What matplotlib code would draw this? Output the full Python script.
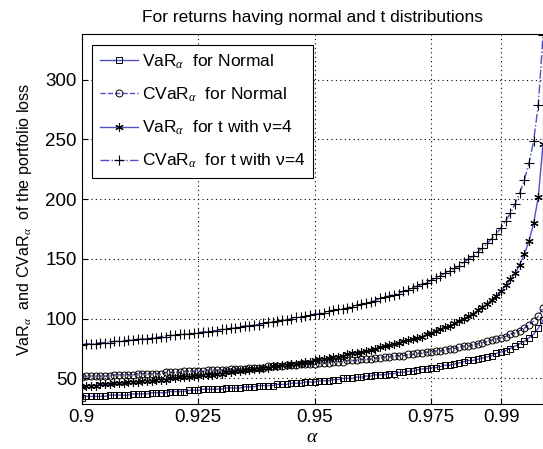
import matplotlib
matplotlib.use('Agg')
import matplotlib.pyplot as plt

# alpha = 0.900, 0.901, ..., 0.999
alpha = [round(0.9 + 0.001 * i, 3) for i in range(100)]

var_normal = [34, 35, 35, 35, 35, 35, 36, 36, 36, 36,
              36, 37, 37, 37, 37, 38, 38, 38, 38, 39,
              39, 39, 39, 40, 40, 40, 41, 41, 41, 41,
              41, 42, 42, 42, 42, 43, 43, 43, 44, 44,
              44, 44, 45, 45, 45, 46, 46, 46, 47, 47,
              47, 48, 48, 48, 49, 49, 50, 50, 50, 51,
              51, 52, 52, 53, 53, 53, 54, 54, 55, 55,
              56, 56, 57, 58, 58, 59, 59, 60, 61, 61,
              62, 63, 64, 65, 65, 66, 67, 68, 69, 71,
              72, 73, 75, 77, 79, 81, 84, 87, 92, 99]
cvar_normal = [51, 52, 52, 52, 52, 52, 52, 53, 53, 53,
               53, 53, 54, 54, 54, 54, 54, 54, 55, 55,
               55, 55, 56, 56, 56, 56, 56, 57, 57, 57,
               57, 57, 58, 58, 58, 58, 59, 59, 59, 59,
               60, 60, 60, 60, 61, 61, 61, 62, 62, 62,
               62, 63, 63, 63, 64, 64, 64, 65, 65, 65,
               66, 66, 66, 67, 67, 68, 68, 69, 69, 69,
               70, 70, 71, 71, 72, 72, 73, 73, 74, 75,
               75, 76, 77, 77, 78, 79, 80, 81, 82, 83,
               84, 85, 87, 88, 90, 92, 95, 98, 102, 109]
var_t = [43, 44, 44, 44, 45, 45, 45, 46, 46, 46,
         47, 47, 47, 48, 48, 48, 49, 49, 49, 50,
         50, 51, 51, 51, 52, 52, 53, 53, 53, 54,
         54, 55, 55, 56, 56, 57, 57, 58, 58, 59,
         59, 60, 60, 61, 61, 62, 62, 63, 64, 64,
         65, 66, 66, 67, 68, 68, 69, 70, 71, 71,
         72, 73, 74, 75, 76, 77, 78, 79, 80, 81,
         82, 83, 84, 85, 87, 88, 90, 91, 93, 94,
         96, 98, 100, 102, 104, 107, 110, 112, 116, 119,
         123, 128, 133, 138, 145, 154, 165, 180, 202, 246]
cvar_t = [78, 79, 79, 79, 80, 80, 80, 81, 81, 81,
          82, 82, 83, 83, 83, 84, 84, 85, 85, 86,
          86, 87, 87, 87, 88, 88, 89, 89, 90, 90,
          91, 91, 92, 92, 93, 94, 94, 95, 95, 96,
          97, 97, 98, 99, 99, 100, 101, 101, 102, 103,
          104, 104, 105, 106, 107, 108, 108, 109, 110, 111,
          112, 113, 114, 115, 117, 118, 119, 120, 121, 123,
          124, 126, 127, 129, 130, 132, 134, 136, 138, 140,
          142, 144, 147, 150, 152, 156, 159, 163, 167, 171,
          176, 182, 188, 196, 205, 216, 230, 249, 279, 337]

xticks = [0.9, 0.925, 0.95, 0.975, 0.99]
xticklabels = ['0.9', '0.925', '0.95', '0.975', '0.99']
yticks = [50, 100, 150, 200, 250, 300]

plt.rcParams['font.family'] = ['Liberation Sans', 'DejaVu Sans']
plt.rcParams['mathtext.fontset'] = 'custom'
plt.rcParams['mathtext.rm'] = 'Liberation Sans'
plt.rcParams['mathtext.it'] = 'Liberation Serif:italic'

line_col = '#5050c8'
asterisk = (6, 2, 0)

fig = plt.figure(figsize=(5.43, 4.49), dpi=100)
ax = fig.add_axes([0.1505, 0.100, 0.8495, 0.824])

ax.plot(alpha, var_normal, '-', color=line_col, lw=1, marker='s', ms=5,
        mfc='none', mec='k', mew=0.7, label=r'VaR$_{\alpha}$  for Normal')
ax.plot(alpha, cvar_normal, '--', color=line_col, lw=1, marker='o', ms=5,
        mfc='none', mec='k', mew=0.7, label=r'CVaR$_{\alpha}$  for Normal')
ax.plot(alpha, var_t, '-', color=line_col, lw=1, marker=asterisk, ms=6,
        mfc='none', mec='k', mew=0.8, label=r'VaR$_{\alpha}$  for t with ν=4')
ax.plot(alpha, cvar_t, '-.', color=line_col, lw=1, marker='+', ms=7,
        mfc='none', mec='k', mew=0.8, label=r'CVaR$_{\alpha}$  for t with ν=4')

ax.set_xlim(0.9, 0.999)
ax.set_ylim(28.5, 338)
ax.set_xticks(xticks)
ax.set_xticklabels(xticklabels)
ax.set_yticks(yticks)
ax.tick_params(direction='in', labelsize=13.5, length=4, width=0.8)
ax.grid(True, linestyle=(0, (1, 3)), color='k', lw=0.8)
for sp in ax.spines.values():
    sp.set_linewidth(0.8)

ax.set_title('For returns having normal and t distributions', fontsize=12.5, pad=9)
ax.set_xlabel(r'$\mathit{\alpha}$', fontsize=14, labelpad=2)
ax.set_ylabel(r'VaR$_{\alpha}$  and CVaR$_{\alpha}$  of the portfolio loss', fontsize=11.6, labelpad=8)

leg = ax.legend(loc='upper left', fontsize=12.5, frameon=True, fancybox=False,
                edgecolor='k', framealpha=1, borderaxespad=0.6,
                handlelength=2.2, handletextpad=0.2, labelspacing=0.85,
                borderpad=0.45)
leg.get_frame().set_linewidth(0.8)

fig.savefig('out.png', dpi=100)
